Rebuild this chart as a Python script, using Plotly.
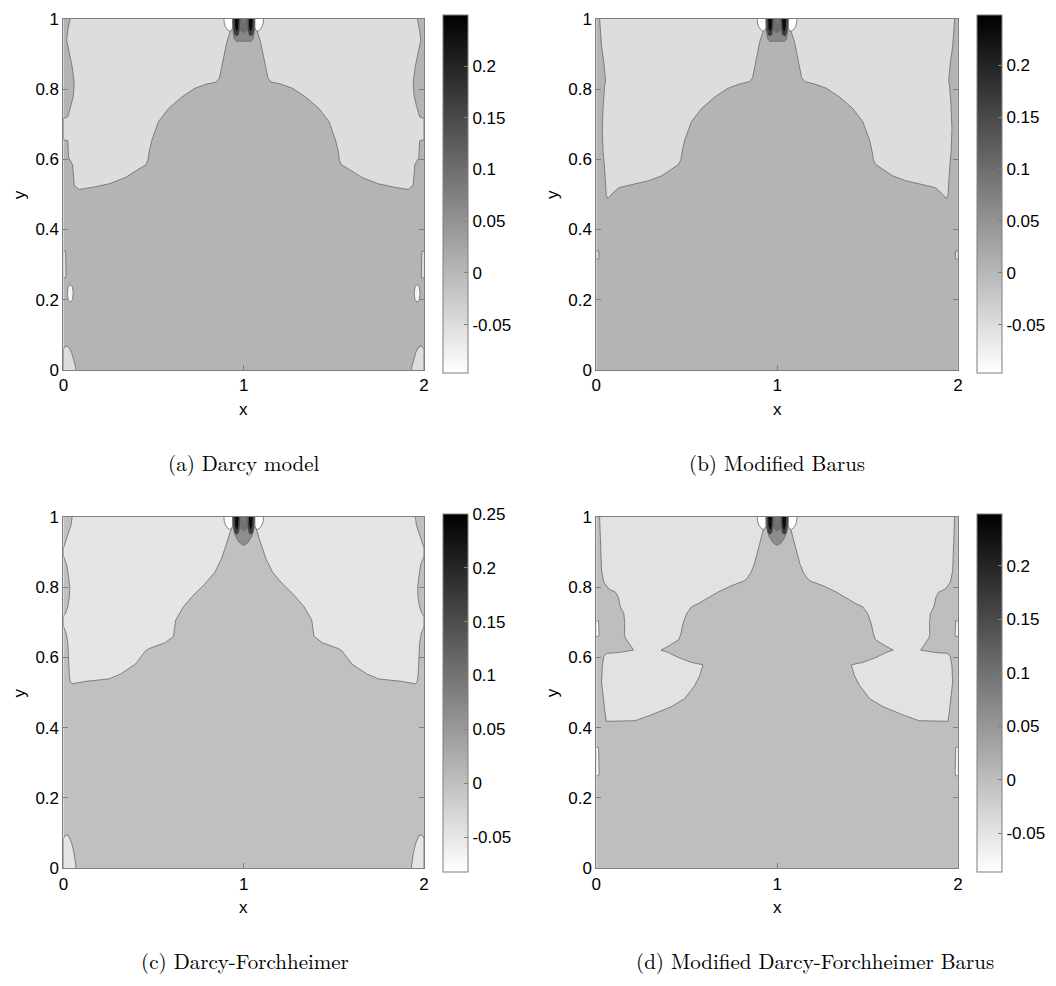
import plotly.graph_objects as go

# ---------------- data ----------------
# colour-bar ranges per panel
RANGES = {"a": (-0.097, 0.249), "b": (-0.097, 0.248), "c": (-0.082, 0.2502), "d": (-0.086, 0.249)}
CB_TICKS = {
    "a": [-0.05, 0, 0.05, 0.1, 0.15, 0.2],
    "b": [-0.05, 0, 0.05, 0.1, 0.15, 0.2],
    "c": [-0.05, 0, 0.05, 0.1, 0.15, 0.2, 0.25],
    "d": [-0.05, 0, 0.05, 0.1, 0.15, 0.2],
}
CB_TEXT = {-0.05: "-0.05", 0: "0", 0.05: "0.05", 0.1: "0.1", 0.15: "0.15", 0.2: "0.2", 0.25: "0.25"}

# level values of the regions
LEVEL_MAIN = {"a": 0.005, "b": 0.005, "c": 0.0, "d": 0.0}
LEVEL_LIGHT = {"a": -0.051, "b": -0.051, "c": -0.048, "d": -0.048}
LEVEL_WHITE = -0.097
LEVEL_CAP = 0.065
LEVEL_INNER = 0.10
LEVEL_STRIPE = 0.17
LEVEL_CORE = 0.235

# left light region boundaries (mirrored about x = 1)
xa = [0.037, 0.024, 0.018, 0.033, 0.048, 0.060, 0.055, 0.042, 0.024, 0.0, 0.0, 0.024, 0.029, 0.051, 0.055,
      0.060, 0.088, 0.161, 0.253, 0.344, 0.418, 0.458, 0.469, 0.476, 0.491, 0.527, 0.582, 0.656, 0.729, 0.793,
      0.848, 0.866, 0.879, 0.894, 0.907, 0.921, 0.930, 0.934]
ya = [1.0, 0.967, 0.939, 0.902, 0.865, 0.818, 0.781, 0.753, 0.721, 0.716, 0.655, 0.653, 0.604, 0.584, 0.558,
      0.525, 0.514, 0.520, 0.530, 0.548, 0.572, 0.584, 0.597, 0.623, 0.655, 0.707, 0.744, 0.777, 0.802, 0.814,
      0.820, 0.832, 0.865, 0.902, 0.935, 0.958, 0.972, 1.0]

xb = [0.018, 0.022, 0.029, 0.042, 0.051, 0.046, 0.038, 0.033, 0.037, 0.044, 0.051, 0.055, 0.064, 0.088, 0.124,
      0.197, 0.289, 0.362, 0.426, 0.457, 0.468, 0.475, 0.489, 0.526, 0.581, 0.654, 0.727, 0.791, 0.846, 0.864,
      0.877, 0.891, 0.904, 0.919, 0.928, 0.932]
yb = [1.0, 0.958, 0.921, 0.874, 0.823, 0.809, 0.753, 0.688, 0.623, 0.586, 0.530, 0.497, 0.488, 0.502, 0.519,
      0.528, 0.539, 0.553, 0.576, 0.586, 0.600, 0.623, 0.655, 0.707, 0.744, 0.777, 0.802, 0.814, 0.821, 0.832,
      0.865, 0.902, 0.935, 0.958, 0.972, 1.0]

xc = [0.048, 0.042, 0.024, 0.007, 0.0, 0.0, 0.018, 0.029, 0.035, 0.033, 0.024, 0.011, 0.0, 0.0, 0.015, 0.024,
      0.027, 0.033, 0.038, 0.048, 0.125, 0.253, 0.317, 0.399, 0.454, 0.473, 0.564, 0.610, 0.623, 0.665, 0.711,
      0.784, 0.839, 0.875, 0.903, 0.921, 0.934, 0.940]
yc = [1.0, 0.977, 0.949, 0.921, 0.912, 0.888, 0.865, 0.828, 0.800, 0.772, 0.744, 0.725, 0.718, 0.688, 0.669,
      0.642, 0.595, 0.548, 0.530, 0.525, 0.532, 0.539, 0.553, 0.581, 0.618, 0.625, 0.642, 0.660, 0.707, 0.744,
      0.772, 0.809, 0.842, 0.879, 0.921, 0.949, 0.972, 1.0]

xd = [0.018, 0.024, 0.029, 0.042, 0.069, 0.106, 0.121, 0.133, 0.152, 0.157, 0.155, 0.161, 0.179, 0.206, 0.124,
      0.060, 0.042, 0.033, 0.029, 0.037, 0.047, 0.055, 0.216, 0.307, 0.416, 0.489, 0.544, 0.572, 0.590, 0.526,
      0.453, 0.398, 0.358, 0.398, 0.457, 0.468, 0.480, 0.499, 0.526, 0.563, 0.608, 0.672, 0.745, 0.818, 0.837,
      0.855, 0.873, 0.891, 0.904, 0.919, 0.928, 0.932]
yd = [1.0, 0.921, 0.846, 0.814, 0.795, 0.786, 0.772, 0.744, 0.725, 0.697, 0.665, 0.655, 0.642, 0.621, 0.614,
      0.612, 0.604, 0.576, 0.530, 0.483, 0.446, 0.418, 0.420, 0.437, 0.460, 0.483, 0.520, 0.548, 0.579, 0.586,
      0.600, 0.614, 0.621, 0.632, 0.651, 0.669, 0.697, 0.725, 0.744, 0.753, 0.767, 0.786, 0.804, 0.818, 0.828,
      0.842, 0.865, 0.898, 0.926, 0.953, 0.972, 1.0]

# small features near the side walls (left side, mirrored)
corner_x = [0.0, 0.0, 0.012, 0.028, 0.045, 0.058, 0.066, 0.070]
corner_y_a = [0.0, 0.060, 0.068, 0.066, 0.050, 0.030, 0.012, 0.0]
corner_y_c = [0.0, 0.085, 0.095, 0.092, 0.072, 0.045, 0.018, 0.0]
strip_x = [0.0, 0.012, 0.015, 0.015, 0.012, 0.0]
strip_a_y = [0.262, 0.262, 0.272, 0.328, 0.338, 0.338]
strip_b_y = [0.316, 0.316, 0.320, 0.334, 0.339, 0.339]
strip_d1_y = [0.660, 0.660, 0.666, 0.698, 0.704, 0.704]
strip_d2_y = [0.263, 0.263, 0.272, 0.336, 0.344, 0.344]
ell_x = [0.038, 0.050, 0.054, 0.050, 0.038, 0.026, 0.022, 0.026, 0.038]
ell_y = [0.193, 0.200, 0.218, 0.236, 0.243, 0.236, 0.218, 0.200, 0.193]

# jet at the top centre
pocket_x = [0.890, 0.892, 0.898, 0.908, 0.920, 0.932, 0.938, 0.938]
pocket_y = [1.0, 0.988, 0.978, 0.970, 0.965, 0.966, 0.975, 1.0]
cap_ab_x = [0.940, 0.942, 0.948, 0.960, 1.040, 1.052, 1.058, 1.060]
cap_ab_y = [1.0, 0.960, 0.942, 0.936, 0.936, 0.942, 0.960, 1.0]
cap_cd_x = [0.945, 0.947, 0.955, 0.975, 0.995, 1.005, 1.025, 1.045, 1.053, 1.055]
cap_cd_y = [1.0, 0.960, 0.945, 0.928, 0.920, 0.920, 0.928, 0.945, 0.960, 1.0]
stripe_x = [0.940, 0.942, 0.948, 0.960, 0.972, 0.978, 0.980]
stripe_y = [1.0, 0.970, 0.955, 0.950, 0.955, 0.970, 1.0]
core_x = [0.948, 0.950, 0.958, 0.966, 0.972, 0.974]
core_y = [1.0, 0.975, 0.963, 0.963, 0.975, 1.0]
inner_x = [0.980, 0.983, 1.0, 1.017, 1.020]
inner_y = [1.0, 0.966, 0.960, 0.966, 1.0]

CAPTIONS = {"a": "(a) Darcy model", "b": "(b) Modified Barus",
            "c": "(c) Darcy-Forchheimer", "d": "(d) Modified Darcy-Forchheimer Barus"}

# ---------------- figure ----------------
W, H = 1056, 986
PANELS = {
    # key: (axis suffix, x-left px, x-right px, y-top px, y-bottom px, caption centre x)
    "a": ("", 59, 423, 10, 368, 241),
    "b": ("2", 597, 962, 10, 368, 779),
    "c": ("3", 59, 423, 518, 876, 242),
    "d": ("4", 597, 962, 518, 876, 818),
}
SANS = "Liberation Sans, Arial, Helvetica, sans-serif"
SERIF = "Latin Modern Roman, DejaVu Serif, serif"
FS = 17
LINE = "#6a6a6a"
AXC = "#7f7f7f"


def gray(v, key):
    lo, hi = RANGES[key]
    f = min(max((v - lo) / (hi - lo), 0.0), 1.0)
    c = int(round(255 * (1 - f)))
    return f"rgb({c},{c},{c})"


fig = go.Figure()


def poly(key, xs, ys, level, mirror=True, lw=0.8):
    suf = PANELS[key][0]
    color = gray(level, key)
    sets = [list(xs)]
    if mirror:
        sets.append([2 - v for v in xs])
    for px in sets:
        fig.add_trace(go.Scatter(
            x=px, y=list(ys), mode="lines", fill="toself", fillcolor=color,
            line=dict(color=LINE, width=lw), hoverinfo="skip", showlegend=False,
            xaxis="x" + suf, yaxis="y" + suf))


layout_axes = {}
annotations = []
for key, (suf, xl, xr, yt, yb_, capx) in PANELS.items():
    lo, hi = RANGES[key]
    v = LEVEL_MAIN[key]
    ymid = 1 - (yt + yb_) / 2 / H
    fig.add_trace(go.Heatmap(
        z=[[v, v], [v, v]], x=[0, 2], y=[0, 1], zmin=lo, zmax=hi,
        colorscale=[[0, "rgb(255,255,255)"], [1, "rgb(0,0,0)"]],
        hoverinfo="skip", xaxis="x" + suf, yaxis="y" + suf,
        colorbar=dict(
            x=(xr + 19) / W, xanchor="left", xpad=0, ypad=0,
            y=ymid, yanchor="middle", len=yb_ - yt, lenmode="pixels",
            thickness=25, thicknessmode="pixels",
            outlinecolor=AXC, outlinewidth=1,
            ticks="inside", ticklen=4, tickcolor=AXC,
            tickvals=CB_TICKS[key], ticktext=[CB_TEXT[t] for t in CB_TICKS[key]],
            tickfont=dict(family=SANS, size=FS, color="black"),
        )))

    xname = "xaxis" + suf
    yname = "yaxis" + suf
    layout_axes[xname] = dict(
        domain=[xl / W, xr / W], range=[0, 2], anchor="y" + suf,
        tickvals=[0, 1, 2], ticktext=["0", "1", "2"], ticks="inside", ticklen=5,
        tickcolor=AXC, showline=True, linecolor=AXC, linewidth=1, mirror="ticks",
        showgrid=False, zeroline=False, tickfont=dict(family=SANS, size=FS, color="black"),
        fixedrange=True)
    layout_axes[yname] = dict(
        domain=[1 - yb_ / H, 1 - yt / H], range=[0, 1], anchor="x" + suf,
        tickvals=[0, 0.2, 0.4, 0.6, 0.8, 1], ticktext=["0", "0.2", "0.4", "0.6", "0.8", "1"],
        ticks="inside", ticklen=5, tickcolor=AXC, showline=True, linecolor=AXC, linewidth=1,
        mirror="ticks", showgrid=False, zeroline=False,
        tickfont=dict(family=SANS, size=FS, color="black"), fixedrange=True)

    annotations.append(dict(text="x", x=(xl + xr) / 2 / W, y=1 - (yb_ + 40) / H, xref="paper", yref="paper",
                            showarrow=False, xanchor="center", yanchor="middle",
                            font=dict(family=SANS, size=FS, color="black")))
    annotations.append(dict(text="y", x=(xl - 44) / W, y=ymid, xref="paper", yref="paper",
                            showarrow=False, xanchor="center", yanchor="middle", textangle=-90,
                            font=dict(family=SANS, size=FS, color="black")))
    annotations.append(dict(text=CAPTIONS[key], x=capx / W, y=1 - (yb_ + 94) / H, xref="paper", yref="paper",
                            showarrow=False, xanchor="center", yanchor="middle",
                            font=dict(family=SERIF, size=21, color="black")))

# light regions
poly("a", xa, ya, LEVEL_LIGHT["a"])
poly("b", xb, yb, LEVEL_LIGHT["b"])
poly("c", xc, yc, LEVEL_LIGHT["c"])
poly("d", xd, yd, LEVEL_LIGHT["d"])

# wall features
poly("a", corner_x, corner_y_a, LEVEL_LIGHT["a"])
poly("c", corner_x, corner_y_c, LEVEL_LIGHT["c"])
poly("a", strip_x, strip_a_y, LEVEL_LIGHT["a"])
poly("a", ell_x, ell_y, -0.085)
poly("b", strip_x, strip_b_y, LEVEL_LIGHT["b"])
poly("d", strip_x, strip_d1_y, -0.075)
poly("d", strip_x, strip_d2_y, -0.075)

# jets
for key in "abcd":
    poly(key, pocket_x, pocket_y, LEVEL_WHITE)
    if key in "ab":
        poly(key, cap_ab_x, cap_ab_y, LEVEL_CAP, mirror=False)
    else:
        poly(key, cap_cd_x, cap_cd_y, LEVEL_CAP, mirror=False)
    poly(key, inner_x, inner_y, LEVEL_INNER, mirror=False, lw=0.5)
    poly(key, stripe_x, stripe_y, LEVEL_STRIPE, lw=0.5)
    poly(key, core_x, core_y, LEVEL_CORE, lw=0.5)

fig.update_layout(
    width=W, height=H, margin=dict(l=0, r=0, t=0, b=0),
    paper_bgcolor="white", plot_bgcolor="white", showlegend=False,
    annotations=annotations, **layout_axes)

fig.write_html("out.html")
